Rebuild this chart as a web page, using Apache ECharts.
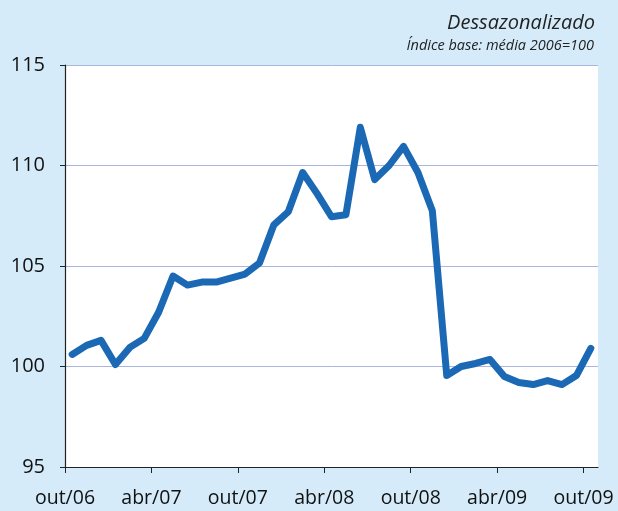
<!DOCTYPE html>
<html>
<head>
<meta charset="utf-8">
<script src="https://cdn.jsdelivr.net/npm/echarts@6/dist/echarts.min.js"></script>
<style>
html,body{margin:0;padding:0;background:#d5ebf9;}
#c{width:618px;height:511px;}
</style>
</head>
<body>
<div id="c"></div>
<script>
// Monthly index, out/06 .. out/09 (37 months)
const values = [100.6,101.05,101.3,100.1,100.95,101.4,102.7,104.5,104.05,104.2,104.2,104.4,104.6,105.15,107.05,107.7,109.65,108.6,107.45,107.55,111.9,109.3,110.0,110.95,109.65,107.75,99.55,100.0,100.15,100.35,99.5,99.2,99.1,99.3,99.1,99.55,100.9];
const tickLabels = ['out/06','abr/07','out/07','abr/08','out/08','abr/09','out/09'];
const tickPositions = [0,6,12,18,24,30,36];
const subtitle1 = 'Dessazonalizado';
const subtitle2 = 'Índice base: média 2006=100';

const seriesData = values.map((v,i)=>[i+0.5, v]);
const chart = echarts.init(document.getElementById('c'), null, {renderer:'canvas'});
chart.setOption({
  backgroundColor:'#d5ebf9',
  animation:false,
  title:[
    {text:subtitle1, right:18, top:8, textStyle:{fontFamily:'Open Sans', fontStyle:'italic', fontWeight:'normal', fontSize:20, color:'#222'}},
    {text:subtitle2, right:19, top:33, textStyle:{fontFamily:'Open Sans', fontStyle:'italic', fontWeight:'normal', fontSize:14.5, color:'#222'}}
  ],
  grid:{left:65, right:20, top:65, bottom:44, show:true, backgroundColor:'#ffffff', borderWidth:0},
  xAxis:{
    type:'value', min:0, max:37,
    axisLine:{show:true, lineStyle:{color:'#222', width:1.2}},
    axisTick:{show:true, length:6, customValues:tickPositions, lineStyle:{color:'#222'}},
    axisLabel:{customValues:tickPositions, margin:21, fontFamily:'Open Sans', fontSize:19.5, color:'#111',
      formatter:(v)=>{const k=tickPositions.indexOf(Math.round(v)); return k>=0?tickLabels[k]:'';}},
    splitLine:{show:false}
  },
  yAxis:{
    type:'value', min:95, max:115, interval:5,
    axisLine:{show:true, lineStyle:{color:'#222', width:1.2}},
    axisTick:{show:true, length:5, lineStyle:{color:'#222'}},
    axisLabel:{margin:20, fontFamily:'Open Sans', fontSize:20, color:'#111'},
    splitLine:{show:true, lineStyle:{color:'#a9b6e0', width:1}}
  },
  series:[{
    type:'line', data:seriesData, showSymbol:false, symbol:'none',
    lineStyle:{color:'#1b68b5', width:7, join:'round', cap:'round'}
  }]
});
</script>
</body>
</html>
